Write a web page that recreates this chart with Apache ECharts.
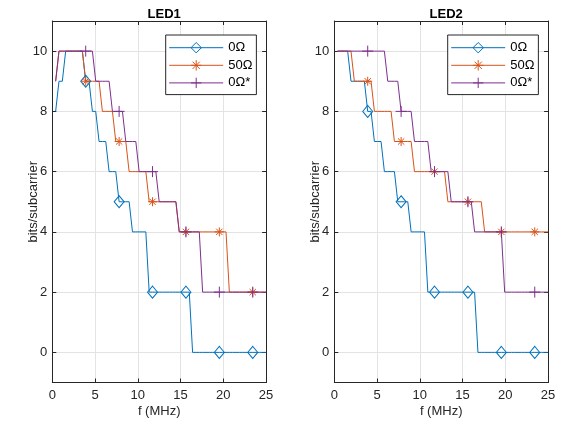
<!DOCTYPE html>
<html>
<head>
<meta charset="utf-8">
<script src="https://cdn.jsdelivr.net/npm/echarts@6/dist/echarts.min.js"></script>
<style>html,body{margin:0;padding:0;background:#fff}#c{width:566px;height:427px}</style>
</head>
<body>
<div id="c"></div>
<script>
// subcarrier frequencies (MHz)
var freq = [
  0.391, 0.781, 1.172, 1.563, 1.953, 2.344, 2.734, 3.125,
  3.516, 3.906, 4.297, 4.688, 5.078, 5.469, 5.859, 6.25,
  6.641, 7.031, 7.422, 7.813, 8.203, 8.594, 8.984, 9.375,
  9.766, 10.156, 10.547, 10.938, 11.328, 11.719, 12.109, 12.5,
  12.891, 13.281, 13.672, 14.063, 14.453, 14.844, 15.234, 15.625,
  16.016, 16.406, 16.797, 17.188, 17.578, 17.969, 18.359, 18.75,
  19.141, 19.531, 19.922, 20.313, 20.703, 21.094, 21.484, 21.875,
  22.266, 22.656, 23.047, 23.438, 23.828, 24.219, 24.609, 25
];
// subcarrier numbers carrying a marker
var markerK = [10, 20, 30, 40, 50, 60];
var seriesNames = ['0\u03A9', '50\u03A9', '0\u03A9*'];
var panelTitles = ['LED1', 'LED2'];
var xTicks = [0, 5, 10, 15, 20, 25];
var yTicks = [0, 2, 4, 6, 8, 10];

// LED1
var led1_0ohm = [
  8,9,9,10,10,10,10,10,
  10,9,9,8,8,7,7,7,
  6,6,6,5,5,5,5,4,
  4,4,4,4,2,2,2,2,
  2,2,2,2,2,2,2,2,
  2,0,0,0,0,0,0,0,
  0,0,0,0,0,0,0,0,
  0,0,0,0,0,0,0,0
];
var led1_50ohm = [
  9,10,10,10,10,10,10,10,
  10,9,9,9,9,9,8,8,
  8,8,7,7,7,7,6,6,
  6,6,6,6,5,5,5,5,
  5,5,5,5,5,4,4,4,
  4,4,4,4,4,4,4,4,
  4,4,4,4,2,2,2,2,
  2,2,2,2,2,2,2,2
];
var led1_0ohmStar = [
  9,10,10,10,10,10,10,10,
  10,10,10,10,9,9,9,9,
  9,8,8,8,8,7,7,7,
  7,6,6,6,6,6,6,5,
  5,5,5,5,5,4,4,4,
  4,4,4,4,2,2,2,2,
  2,2,2,2,2,2,2,2,
  2,2,2,2,2,2,2,2
];
// LED2
var led2_0ohm = [
  10,10,10,10,9,9,9,9,
  9,8,8,7,7,7,6,6,
  6,6,5,5,5,5,4,4,
  4,4,4,2,2,2,2,2,
  2,2,2,2,2,2,2,2,
  2,2,0,0,0,0,0,0,
  0,0,0,0,0,0,0,0,
  0,0,0,0,0,0,0,0
];
var led2_50ohm = [
  10,10,10,10,10,9,9,9,
  9,9,9,8,8,8,8,8,
  8,7,7,7,7,7,7,6,
  6,6,6,6,6,6,6,6,
  6,5,5,5,5,5,5,5,
  5,5,5,5,4,4,4,4,
  4,4,4,4,4,4,4,4,
  4,4,4,4,4,4,4,4
];
var led2_0ohmStar = [
  10,10,10,10,10,10,10,10,
  10,10,10,10,10,10,10,9,
  9,9,9,8,8,8,8,7,
  7,7,7,7,6,6,6,6,
  6,6,5,5,5,5,5,5,
  5,4,4,4,4,4,4,4,
  4,4,2,2,2,2,2,2,
  2,2,2,2,2,2,2,2
];

var panels = [
  [led1_0ohm, led1_50ohm, led1_0ohmStar],
  [led2_0ohm, led2_50ohm, led2_0ohmStar]
];

var colors = ['#0072BD', '#D95319', '#7E2F8E'];
var symbols = [
  'path://M0,-6L5,0L0,6L-5,0Z',
  'path://M0,-5L0,5M-5,0L5,0M-3.5,-3.5L3.5,3.5M-3.5,3.5L3.5,-3.5',
  'path://M0,-5L0,5M-5,0L5,0'
];
var symbolSizes = [[10, 12], [9, 9], [11, 11]];

var axisColor = '#262626';
var gridColor = '#e3e3e3';
var fontFam = 'Liberation Sans, Arial, sans-serif';
var gridLefts = [52.3, 334.3];

var grids = [], xAxes = [], yAxes = [], series = [], titles = [], legends = [];

gridLefts.forEach(function (gl, gi) {
  grids.push({ left: gl, top: 21, width: 213.8, height: 361.5, outerBoundsMode: 'none', containLabel: false });
  titles.push({
    text: panelTitles[gi], left: gl + 106.9, top: 3, textAlign: 'center',
    textStyle: { fontSize: 13, fontWeight: 'bold', color: '#000', fontFamily: fontFam }
  });
  var tickStyle = { show: true, inside: true, length: 4, lineStyle: { color: axisColor, width: 1 } };
  var lineStyle = { show: true, onZero: false, lineStyle: { color: axisColor, width: 1 } };
  xAxes.push({
    type: 'value', gridIndex: gi, position: 'bottom', min: xTicks[0], max: xTicks[xTicks.length - 1], interval: 5,
    axisLine: lineStyle, axisTick: tickStyle,
    axisLabel: { color: axisColor, fontSize: 13, margin: 6, fontFamily: fontFam },
    splitLine: { show: true, lineStyle: { color: gridColor, width: 1 } },
    name: 'f (MHz)', nameLocation: 'middle', nameGap: 22, nameMoveOverlap: false,
    nameTextStyle: { color: axisColor, fontSize: 13, fontFamily: fontFam }
  });
  xAxes.push({
    type: 'value', gridIndex: gi, position: 'top', min: xTicks[0], max: xTicks[xTicks.length - 1], interval: 5,
    axisLine: lineStyle, axisTick: tickStyle, axisLabel: { show: false }, splitLine: { show: false }
  });
  yAxes.push({
    type: 'value', gridIndex: gi, position: 'left', min: -1, max: 11, splitNumber: 6, minInterval: 2, maxInterval: 2,
    axisLine: lineStyle, axisTick: tickStyle,
    axisLabel: { color: axisColor, fontSize: 13, margin: 5, fontFamily: fontFam, showMinLabel: false, showMaxLabel: false },
    splitLine: { show: true, lineStyle: { color: gridColor, width: 1 } },
    name: 'bits/subcarrier', nameLocation: 'middle', nameGap: 12, nameMoveOverlap: false,
    nameTextStyle: { color: axisColor, fontSize: 13, fontFamily: fontFam }
  });
  yAxes.push({
    type: 'value', gridIndex: gi, position: 'right', min: -1, max: 11, splitNumber: 6, minInterval: 2, maxInterval: 2,
    axisLine: lineStyle, axisTick: tickStyle, axisLabel: { show: false }, splitLine: { show: false }
  });
  panels[gi].forEach(function (vals, si) {
    series.push({
      type: 'line', name: seriesNames[si], xAxisIndex: gi * 2, yAxisIndex: gi * 2,
      symbol: symbols[si], symbolSize: symbolSizes[si], showAllSymbol: true,
      lineStyle: { color: colors[si], width: 1 },
      itemStyle: { color: 'none', borderColor: colors[si], borderWidth: 1 },
      emphasis: { disabled: true },
      data: freq.map(function (f, i) {
        return markerK.indexOf(i + 1) >= 0 ? { value: [f, vals[i]] } : { value: [f, vals[i]], symbol: 'none' };
      })
    });
  });
  legends.push({
    left: gl + 113.4, top: 35, orient: 'vertical', data: seriesNames,
    itemWidth: 54, itemHeight: 13, itemGap: 2.2, padding: [5, 4, 4, 3],
    backgroundColor: '#fff', borderColor: axisColor, borderWidth: 1, borderRadius: 0,
    selectedMode: false,
    lineStyle: { width: 1 },
    itemStyle: { borderWidth: 1 },
    textStyle: { fontSize: 13, lineHeight: 13, color: '#000', fontFamily: fontFam }
  });
});

var chart = echarts.init(document.getElementById('c'), null, { renderer: 'canvas' });
chart.setOption({
  animation: false,
  backgroundColor: '#fff',
  title: titles,
  legend: legends,
  grid: grids,
  xAxis: xAxes,
  yAxis: yAxes,
  series: series
});
</script>
</body>
</html>
